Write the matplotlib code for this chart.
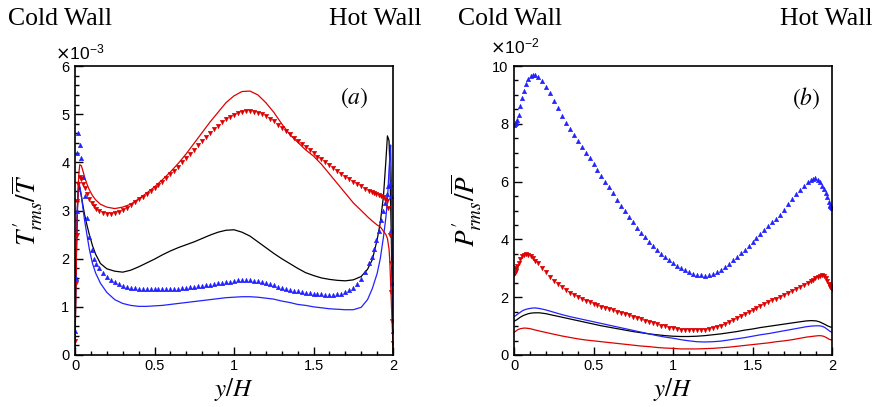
import matplotlib
matplotlib.use("Agg")
import matplotlib.pyplot as plt
import numpy as np
from matplotlib.ticker import MultipleLocator

# ---------------- data ----------------
# wall-normal positions (y/H) for the solid (line) series
y_line = [0.0, 0.005, 0.01, 0.015, 0.02, 0.025, 0.03, 0.04, 0.05, 0.06, 0.075, 0.09, 0.11, 0.13, 0.16,
          0.2, 0.25, 0.3, 0.35, 0.4, 0.45, 0.5, 0.55, 0.6, 0.65, 0.7, 0.75, 0.8, 0.85, 0.9, 0.95,
          1.0, 1.05, 1.1, 1.15, 1.2, 1.25, 1.3, 1.35, 1.4, 1.45, 1.5, 1.55, 1.6, 1.65, 1.7, 1.75,
          1.8, 1.84, 1.87, 1.9, 1.92, 1.94, 1.955, 1.965, 1.975, 1.98, 1.985, 1.99, 1.995, 2.0]

# wall-normal positions (y/H) for the symbol series
y_sym = [0.0, 0.005, 0.01, 0.015, 0.02, 0.03, 0.04, 0.05, 0.06, 0.075, 0.09, 0.105, 0.12, 0.135,
         0.15, 0.175, 0.2, 0.225, 0.25, 0.275, 0.3, 0.325, 0.35, 0.375, 0.4, 0.425, 0.45, 0.475,
         0.5, 0.525, 0.55, 0.575, 0.6, 0.625, 0.65, 0.675, 0.7, 0.725, 0.75, 0.775, 0.8, 0.825,
         0.85, 0.875, 0.9, 0.925, 0.95, 0.975, 1.0, 1.025, 1.05, 1.075, 1.1, 1.125, 1.15, 1.175,
         1.2, 1.225, 1.25, 1.275, 1.3, 1.325, 1.35, 1.375, 1.4, 1.425, 1.45, 1.475, 1.5, 1.525,
         1.55, 1.575, 1.6, 1.625, 1.65, 1.675, 1.7, 1.725, 1.75, 1.775, 1.8, 1.825, 1.85, 1.865,
         1.88, 1.895, 1.91, 1.925, 1.94, 1.95, 1.96, 1.97, 1.98, 1.985, 1.99, 1.995, 2.0]

# (a) T'rms / Tmean  (x 1e-3)
T_black = [0.05, 1.3, 2.4, 3.0, 3.35, 3.47, 3.48, 3.3, 3.1, 2.92, 2.7, 2.5, 2.27, 2.09, 1.9,
           1.79, 1.74, 1.72, 1.76, 1.83, 1.91, 1.99, 2.08, 2.16, 2.23, 2.29, 2.35, 2.42, 2.49, 2.55, 2.59,
           2.6, 2.55, 2.47, 2.35, 2.23, 2.11, 2.0, 1.9, 1.8, 1.71, 1.65, 1.6, 1.57, 1.55, 1.54, 1.56,
           1.63, 1.78, 1.98, 2.39, 2.75, 3.3, 4.02, 4.55, 4.45, 3.98, 3.2, 2.3, 1.2, 0.05]
T_blue = [0.3, 1.4, 2.4, 3.1, 3.45, 3.55, 3.5, 3.3, 3.05, 2.8, 2.5, 2.2, 1.9, 1.7, 1.49,
          1.3, 1.15, 1.07, 1.03, 1.01, 1.01, 1.02, 1.03, 1.05, 1.07, 1.09, 1.11, 1.13, 1.15, 1.17, 1.19,
          1.2, 1.21, 1.21, 1.2, 1.18, 1.16, 1.12, 1.09, 1.05, 1.03, 1.0, 0.98, 0.96, 0.95, 0.94, 0.94,
          0.99, 1.15, 1.38, 1.69, 2.0, 2.45, 2.85, 3.2, 3.85, 4.1, 4.36, 3.6, 2.0, 0.5]
T_red = [0.2, 1.2, 2.2, 3.0, 3.5, 3.8, 3.95, 3.93, 3.82, 3.7, 3.55, 3.43, 3.31, 3.22, 3.13,
         3.07, 3.04, 3.07, 3.13, 3.24, 3.36, 3.49, 3.64, 3.8, 3.98, 4.18, 4.4, 4.62, 4.84, 5.04, 5.24,
         5.38, 5.47, 5.48, 5.4, 5.24, 5.04, 4.8, 4.58, 4.42, 4.26, 4.13, 3.96, 3.76, 3.56, 3.36, 3.16,
         3.0, 2.87, 2.78, 2.7, 2.66, 2.57, 2.5, 2.42, 2.2, 1.95, 1.5, 1.05, 0.6, 0.2]
T_blue_sym = [0.5, 1.6, 3.0, 4.2, 4.6, 4.35, 4.1, 3.7, 3.3, 2.85, 2.45, 2.17, 2.0, 1.88,
              1.8, 1.7, 1.62, 1.56, 1.51, 1.47, 1.44, 1.42, 1.4, 1.39, 1.38, 1.38, 1.38, 1.38,
              1.38, 1.38, 1.38, 1.38, 1.38, 1.38, 1.38, 1.39, 1.4, 1.41, 1.42, 1.43, 1.44, 1.45,
              1.46, 1.48, 1.49, 1.5, 1.51, 1.52, 1.54, 1.55, 1.55, 1.55, 1.55, 1.54, 1.53, 1.52,
              1.5, 1.48, 1.45, 1.42, 1.39, 1.37, 1.35, 1.33, 1.32, 1.31, 1.29, 1.28, 1.27, 1.27,
              1.26, 1.25, 1.25, 1.25, 1.26, 1.27, 1.3, 1.34, 1.39, 1.47, 1.58, 1.72, 1.9, 2.03,
              2.2, 2.38, 2.58, 2.8, 3.0, 3.15, 3.35, 3.5, 3.55, 3.3, 2.6, 1.5, 0.5]
T_red_sym = [0.3, 1.5, 2.5, 3.2, 3.55, 3.7, 3.66, 3.56, 3.46, 3.34, 3.24, 3.15, 3.09, 3.03,
             2.99, 2.95, 2.93, 2.93, 2.94, 2.97, 3.01, 3.06, 3.11, 3.17, 3.23, 3.29, 3.35, 3.41,
             3.47, 3.53, 3.6, 3.67, 3.75, 3.83, 3.91, 4.0, 4.08, 4.17, 4.26, 4.35, 4.44, 4.53,
             4.61, 4.69, 4.76, 4.83, 4.89, 4.94, 4.98, 5.02, 5.04, 5.06, 5.06, 5.05, 5.03, 5.0,
             4.96, 4.91, 4.85, 4.78, 4.72, 4.65, 4.58, 4.51, 4.45, 4.38, 4.32, 4.25, 4.19, 4.12,
             4.06, 4.0, 3.94, 3.88, 3.82, 3.76, 3.7, 3.65, 3.6, 3.55, 3.5, 3.45, 3.41, 3.38,
             3.36, 3.34, 3.32, 3.3, 3.27, 3.24, 3.2, 3.05, 2.5, 1.9, 1.3, 0.7, 0.25]

# (b) P'rms / Pmean  (x 1e-2)
P_black = [1.17, 1.18, 1.2, 1.21, 1.23, 1.25, 1.27, 1.31, 1.34, 1.37, 1.4, 1.43, 1.45, 1.46, 1.46,
           1.43, 1.37, 1.31, 1.25, 1.19, 1.13, 1.07, 1.01, 0.96, 0.91, 0.86, 0.81, 0.77, 0.73, 0.7, 0.67,
           0.65, 0.64, 0.64, 0.65, 0.67, 0.7, 0.73, 0.77, 0.81, 0.86, 0.9, 0.95, 0.99, 1.03, 1.07, 1.11,
           1.15, 1.18, 1.19, 1.18, 1.15, 1.1, 1.06, 1.03, 1.0, 0.99, 0.98, 0.97, 0.96, 0.96]
P_blue = [1.33, 1.34, 1.36, 1.38, 1.4, 1.42, 1.44, 1.48, 1.52, 1.55, 1.58, 1.6, 1.62, 1.63, 1.61,
          1.56, 1.48, 1.4, 1.33, 1.27, 1.21, 1.15, 1.09, 1.03, 0.97, 0.91, 0.85, 0.79, 0.73, 0.67, 0.62,
          0.58, 0.53, 0.49, 0.46, 0.45, 0.46, 0.48, 0.52, 0.56, 0.6, 0.65, 0.7, 0.74, 0.79, 0.84, 0.89,
          0.94, 0.98, 1.0, 1.01, 1.01, 0.99, 0.95, 0.91, 0.87, 0.85, 0.83, 0.81, 0.8, 0.78]
P_red = [0.78, 0.8, 0.82, 0.84, 0.86, 0.88, 0.89, 0.91, 0.92, 0.93, 0.93, 0.92, 0.9, 0.87, 0.83,
         0.78, 0.72, 0.66, 0.61, 0.56, 0.52, 0.49, 0.46, 0.43, 0.4, 0.37, 0.34, 0.31, 0.29, 0.26, 0.24,
         0.23, 0.21, 0.21, 0.21, 0.22, 0.23, 0.25, 0.27, 0.3, 0.33, 0.36, 0.39, 0.42, 0.46, 0.49, 0.53,
         0.58, 0.62, 0.64, 0.66, 0.67, 0.66, 0.63, 0.6, 0.57, 0.55, 0.54, 0.53, 0.52, 0.52]
P_blue_sym = [7.95, 7.98, 8.02, 8.06, 8.12, 8.32, 8.6, 8.9, 9.13, 9.38, 9.56, 9.66, 9.7, 9.68,
              9.62, 9.48, 9.28, 9.05, 8.8, 8.54, 8.28, 8.04, 7.82, 7.6, 7.4, 7.2, 7.0, 6.8,
              6.6, 6.4, 6.2, 6.0, 5.8, 5.59, 5.38, 5.17, 4.97, 4.78, 4.59, 4.41, 4.23, 4.07,
              3.92, 3.77, 3.63, 3.5, 3.38, 3.27, 3.17, 3.08, 3.0, 2.93, 2.87, 2.82, 2.78, 2.76,
              2.75, 2.77, 2.81, 2.87, 2.95, 3.05, 3.16, 3.28, 3.4, 3.52, 3.65, 3.78, 3.91, 4.04,
              4.18, 4.31, 4.45, 4.59, 4.72, 4.86, 5.03, 5.21, 5.39, 5.56, 5.72, 5.86, 5.98, 6.04,
              6.1, 6.11, 6.07, 5.97, 5.85, 5.76, 5.6, 5.45, 5.28, 5.2, 5.16, 5.13, 5.1]
P_red_sym = [2.8, 2.85, 2.92, 3.0, 3.08, 3.2, 3.32, 3.41, 3.47, 3.5, 3.47, 3.41, 3.34, 3.26,
             3.17, 3.02, 2.86, 2.71, 2.57, 2.45, 2.34, 2.24, 2.15, 2.07, 2.0, 1.94, 1.88, 1.82,
             1.77, 1.72, 1.67, 1.62, 1.58, 1.54, 1.5, 1.46, 1.41, 1.37, 1.32, 1.28, 1.23, 1.19,
             1.14, 1.1, 1.06, 1.02, 0.99, 0.95, 0.92, 0.9, 0.88, 0.87, 0.86, 0.86, 0.86, 0.86,
             0.87, 0.89, 0.92, 0.96, 1.01, 1.07, 1.13, 1.2, 1.27, 1.34, 1.41, 1.48, 1.55, 1.62,
             1.69, 1.76, 1.83, 1.89, 1.95, 2.01, 2.07, 2.14, 2.21, 2.28, 2.35, 2.42, 2.5, 2.55,
             2.6, 2.65, 2.7, 2.75, 2.77, 2.74, 2.66, 2.56, 2.45, 2.4, 2.35, 2.32, 2.3]

x_ticks = [0, 0.5, 1, 1.5, 2]
x_tick_labels = ["0", "0.5", "1", "1.5", "2"]
T_ticks = [0, 1, 2, 3, 4, 5, 6]
P_ticks = [0, 2, 4, 6, 8, 10]

# ---------------- style ----------------
RED = "#dd0000"
BLUE = "#2222ff"
BLACK = "#000000"
W, H = 880, 407
fig = plt.figure(figsize=(W / 100, H / 100), dpi=100)
plt.rcParams["font.family"] = ["Liberation Sans", "DejaVu Sans"]


def px_axes(l, t, r, b):
    return fig.add_axes([l / W, 1 - b / H, (r - l) / W, (b - t) / H])


def style_axes(ax, yticks, ymax, yminor):
    ax.set_xlim(0, 2)
    ax.set_ylim(0, ymax)
    ax.set_xticks(x_ticks)
    ax.set_xticklabels(x_tick_labels)
    ax.set_yticks(yticks)
    ax.set_yticklabels([str(t) for t in yticks])
    ax.xaxis.set_minor_locator(MultipleLocator(0.1))
    ax.yaxis.set_minor_locator(MultipleLocator(yminor))
    ax.tick_params(which="both", direction="in", top=False, right=False, labelsize=10.5,
                   width=1.0, color="black")
    ax.tick_params(which="major", length=5.5)
    ax.tick_params(which="minor", length=3)
    ax.tick_params(axis="x", pad=3)
    ax.tick_params(axis="y", pad=4)
    for s in ax.spines.values():
        s.set_linewidth(1.2)


def draw(ax, line_sets, sym_sets):
    for vals, c in line_sets:
        ax.plot(y_line, vals, color=c, lw=0.9)
    for vals, c, m in sym_sets:
        ax.plot(y_sym, vals, ls="none", marker=m, ms=3.3, color=c, mec=c, mew=0.3)


serif = dict(family="Liberation Serif", math_fontfamily="stix")

# panel (a)
axA = px_axes(75, 66, 393, 355)
draw(axA, [(T_black, BLACK), (T_blue, BLUE), (T_red, RED)],
     [(T_blue_sym, BLUE, "^"), (T_red_sym, RED, "v")])
style_axes(axA, T_ticks, 6, 0.2)
axA.set_ylabel(r"$T_{rms}^{\prime}/\overline{T}$", fontsize=19.5, **serif)
axA.yaxis.set_label_coords(-0.095, 0.5)
axA.set_xlabel(r"$y/H$", fontsize=18, **serif)
axA.xaxis.set_label_coords(0.5, -0.072)
axA.text(0.877, 0.889, r"$(a)$", transform=axA.transAxes, fontsize=17,
         ha="center", va="center", **serif)

# panel (b)
axB = px_axes(514, 66, 832, 355)
draw(axB, [(P_black, BLACK), (P_blue, BLUE), (P_red, RED)],
     [(P_blue_sym, BLUE, "^"), (P_red_sym, RED, "v")])
style_axes(axB, P_ticks, 10, 0.5)
axB.set_ylabel(r"$P_{rms}^{\prime}/\overline{P}$", fontsize=19.5, **serif)
axB.yaxis.set_label_coords(-0.095, 0.5)
axB.set_xlabel(r"$y/H$", fontsize=18, **serif)
axB.xaxis.set_label_coords(0.5, -0.072)
axB.text(0.918, 0.889, r"$(b)$", transform=axB.transAxes, fontsize=17,
         ha="center", va="center", **serif)

# exponent (offset) labels
fig.text(55 / W, 1 - 59 / H, r"$\times\mathdefault{10^{-3}}$", fontsize=12.5,
         ha="left", va="baseline")
fig.text(490 / W, 1 - 53 / H, r"$\times\mathdefault{10^{-2}}$", fontsize=12.5,
         ha="left", va="baseline")

# wall annotations
for x0, ha, s in [(8, "left", "Cold Wall"), (421, "right", "Hot Wall"),
                  (458, "left", "Cold Wall"), (872, "right", "Hot Wall")]:
    fig.text(x0 / W, 1 - 25 / H, s, fontsize=18.5, family="Liberation Serif",
             ha=ha, va="baseline")

fig.savefig("out.png", dpi=100)
